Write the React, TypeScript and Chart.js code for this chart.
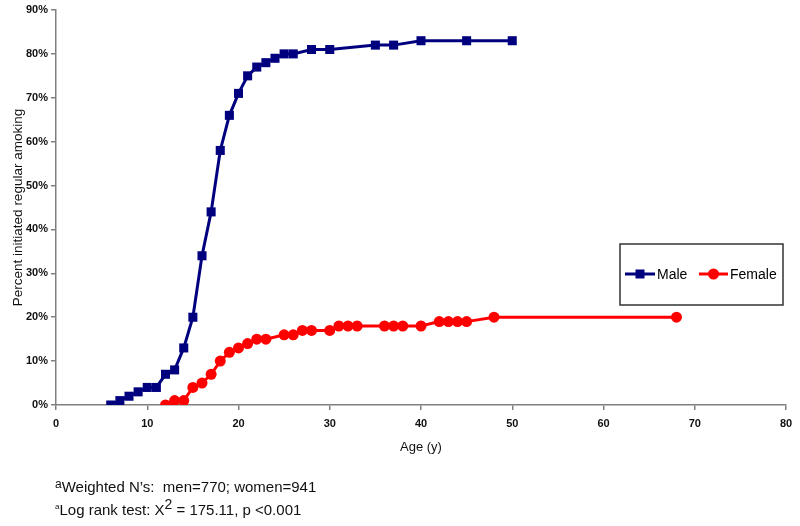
import React, { useEffect, useRef } from "react";
import { Chart, registerables } from "chart.js";

Chart.register(...registerables);

const maleAges = [6, 7, 8, 9, 10, 11, 12, 13, 14, 15, 16, 17, 18, 19, 20, 21, 22, 23, 24, 25, 26, 28, 30, 35, 37, 40, 45, 50];
const maleValues = [0, 1, 2, 3, 4, 4, 7, 8, 13, 20, 34, 44, 58, 66, 71, 75, 77, 78, 79, 80, 80, 81, 81, 82, 82, 83, 83, 83];
const femaleAges = [12, 13, 14, 15, 16, 17, 18, 19, 20, 21, 22, 23, 25, 26, 27, 28, 30, 31, 32, 33, 36, 37, 38, 40, 42, 43, 44, 45, 48, 68];
const femaleValues = [0, 1, 1, 4, 5, 7, 10, 12, 13, 14, 15, 15, 16, 16, 17, 17, 17, 18, 18, 18, 18, 18, 18, 18, 19, 19, 19, 19, 20, 20];
const seriesNames = ["Male", "Female"];
const xAxisTitle = "Age (y)";
const yAxisTitle = "Percent initiated regular amoking";
const xRange = [0, 80];
const yRange = [0, 90];

const FONT = '"Liberation Sans", Arial, sans-serif';
const MALE_COLOR = "#00007f";
const FEMALE_COLOR = "#ff0000";

const legendPlugin = {
  id: "boxLegend",
  afterDraw(chart: any) {
    const ctx = chart.ctx;
    ctx.save();
    const bx = 620, by = 244, bw = 163, bh = 61;
    ctx.strokeStyle = "#333333";
    ctx.lineWidth = 1.5;
    ctx.strokeRect(bx, by, bw, bh);
    const cy = 274;
    ctx.strokeStyle = MALE_COLOR;
    ctx.lineWidth = 3;
    ctx.beginPath();
    ctx.moveTo(625, cy);
    ctx.lineTo(655, cy);
    ctx.stroke();
    ctx.fillStyle = MALE_COLOR;
    ctx.fillRect(640 - 4.5, cy - 4.5, 9, 9);
    ctx.strokeStyle = FEMALE_COLOR;
    ctx.beginPath();
    ctx.moveTo(699, cy);
    ctx.lineTo(728, cy);
    ctx.stroke();
    ctx.fillStyle = FEMALE_COLOR;
    ctx.beginPath();
    ctx.arc(713.5, cy, 5.5, 0, Math.PI * 2);
    ctx.fill();
    ctx.fillStyle = "#000";
    ctx.font = `14px ${FONT}`;
    ctx.textBaseline = "middle";
    ctx.textAlign = "left";
    ctx.fillText(seriesNames[0], 657, cy + 1);
    ctx.fillText(seriesNames[1], 730, cy + 1);
    ctx.restore();
  },
};

export default function App() {
  const ref = useRef<HTMLCanvasElement | null>(null);

  useEffect(() => {
    if (!ref.current) return;
    const chart = new Chart(ref.current, {
      type: "line",
      data: {
        datasets: [
          {
            label: seriesNames[0],
            data: maleAges.map((a, i) => ({ x: a, y: maleValues[i] })),
            borderColor: MALE_COLOR,
            backgroundColor: MALE_COLOR,
            borderWidth: 3,
            pointStyle: "rect",
            pointRadius: 6.4,
            pointBorderWidth: 0,
            tension: 0,
          },
          {
            label: seriesNames[1],
            data: femaleAges.map((a, i) => ({ x: a, y: femaleValues[i] })),
            borderColor: FEMALE_COLOR,
            backgroundColor: FEMALE_COLOR,
            borderWidth: 3,
            pointStyle: "circle",
            pointRadius: 5.5,
            pointBorderWidth: 0,
            tension: 0,
          },
        ],
      },
      options: {
        responsive: false,
        animation: false,
        events: [],
        layout: { padding: { top: 10, right: 14, bottom: 67, left: 0 } },
        plugins: {
          legend: { display: false },
          tooltip: { enabled: false },
        },
        scales: {
          x: {
            type: "linear",
            min: xRange[0],
            max: xRange[1],
            afterFit: (s: any) => {
              s.height = 54;
            },
            ticks: {
              stepSize: 10,
              padding: 7,
              color: "#111",
              font: { family: FONT, size: 11, weight: "bold" },
              maxRotation: 0,
            },
            grid: {
              drawOnChartArea: false,
              drawTicks: true,
              tickLength: 5,
              color: "#808080",
              lineWidth: 1.5,
            },
            border: { color: "#808080", width: 1.5 },
            title: {
              display: true,
              text: xAxisTitle,
              color: "#111",
              font: { family: FONT, size: 13 },
              padding: { top: 4, bottom: 4 },
            },
          },
          y: {
            type: "linear",
            min: yRange[0],
            max: yRange[1],
            afterFit: (s: any) => {
              s.width = 56;
            },
            ticks: {
              stepSize: 10,
              padding: 3,
              color: "#111",
              font: { family: FONT, size: 11, weight: "bold" },
              callback: (v: any) => `${v}%`,
            },
            grid: {
              drawOnChartArea: false,
              drawTicks: true,
              tickLength: 5,
              color: "#808080",
              lineWidth: 1.5,
            },
            border: { color: "#808080", width: 1.5 },
            title: {
              display: true,
              text: yAxisTitle,
              color: "#111",
              font: { family: FONT, size: 13.5 },
              padding: { top: 10, bottom: 4 },
            },
          },
        },
      },
      plugins: [legendPlugin],
    });
    return () => chart.destroy();
  }, []);

  const noteStyle: React.CSSProperties = {
    position: "absolute",
    left: 55,
    fontFamily: FONT,
    fontSize: 15,
    color: "#111",
    whiteSpace: "pre",
    lineHeight: "18px",
  };

  return (
    <div style={{ position: "absolute", left: 0, top: 0, width: 800, height: 526, background: "#fff" }}>
      <canvas ref={ref} width={800} height={526} style={{ position: "absolute", left: 0, top: 0, width: 800, height: 526 }} />
      <div style={{ ...noteStyle, top: 475 }}>
        <span style={{ fontSize: 12, verticalAlign: "4px" }}>a</span>
        {"Weighted N\u2019s:  men=770; women=941"}
      </div>
      <div style={{ ...noteStyle, top: 495 }}>
        <span style={{ fontSize: 8, verticalAlign: "6px" }}>a</span>
        {"Log rank test: X"}
        <span style={{ fontSize: 14, verticalAlign: "6px" }}>2</span>
        {" = 175.11, p <0.001"}
      </div>
    </div>
  );
}
